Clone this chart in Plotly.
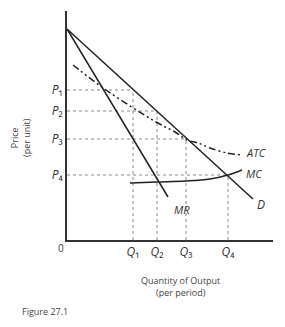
import plotly.graph_objects as go

# ---- data (in chart units) ----
q_labels = ["<i>Q</i>₁", "<i>Q</i>₂", "<i>Q</i>₃", "<i>Q</i>₄"]
q_values = [3.3, 4.5, 5.95, 8.05]
p_labels = ["<i>P</i>₁", "<i>P</i>₂", "<i>P</i>₃", "<i>P</i>₄"]
p_values = [7.5, 6.45, 5.05, 3.25]

demand_x = [0, 9.3]
demand_y = [10.55, 2.05]
mr_x = [0, 5.05]
mr_y = [10.55, 2.15]
mc_x = [3.15, 4.5, 5.95, 7.15, 8.05, 8.75]
mc_y = [2.85, 2.9, 2.95, 3.05, 3.25, 3.5]
atc_x = [0.3, 1.95, 4.45, 5.4, 6.0, 6.55, 7.15, 8.0, 8.75]
atc_y = [8.75, 7.5, 5.9, 5.4, 5.0, 4.85, 4.6, 4.35, 4.25]

X_MAX, Y_MAX = 10.3, 11.45
FONT = "Open Sans, DejaVu Sans"
fig = go.Figure()

guide = dict(color="#8a8a8a", width=1, dash="dot")
for q, p in zip(q_values, p_values):
    fig.add_trace(go.Scatter(x=[0, q], y=[p, p], mode="lines", line=guide,
                             hoverinfo="skip", showlegend=False))
    fig.add_trace(go.Scatter(x=[q, q], y=[0, p], mode="lines", line=guide,
                             hoverinfo="skip", showlegend=False))

fig.add_trace(go.Scatter(x=atc_x, y=atc_y, mode="lines", line_shape="spline",
                         line=dict(color="#222", width=1.5, dash="7px,3px,2px,3px,2px,3px"),
                         showlegend=False))
fig.add_trace(go.Scatter(x=mc_x, y=mc_y, mode="lines", line_shape="spline",
                         line=dict(color="#222", width=1.5), showlegend=False))
fig.add_trace(go.Scatter(x=demand_x, y=demand_y, mode="lines",
                         line=dict(color="#222", width=1.5), showlegend=False))
fig.add_trace(go.Scatter(x=mr_x, y=mr_y, mode="lines",
                         line=dict(color="#222", width=1.5), showlegend=False))

def lab(x, y, t, size=11, xanchor="center"):
    fig.add_annotation(x=x, y=y, text=t, showarrow=False, xanchor=xanchor, yanchor="middle",
                       font=dict(family=FONT, size=size, color="#333"))

lab(8.85, 4.4, "<i>ATC</i>", size=11, xanchor="left")
lab(8.85, 3.35, "<i>MC</i>", size=11, xanchor="left")
lab(9.7, 1.8, "<i>D</i>", size=12)
lab(5.75, 1.55, "<i>MR</i>", size=11)

def ptxt(px, py, t, size=10, xanchor="center", **kw):
    # pixel position in the 285x327 picture -> paper coordinates of the plot area
    fig.add_annotation(x=(px - 67) / 206, y=(240 - py) / 229, xref="paper", yref="paper",
                       text=t, showarrow=False, xanchor=xanchor, yanchor="middle",
                       font=dict(family=FONT, size=size, color="#444"), **kw)

ptxt(61, 248, "0", size=10)
ptxt(20, 138, "Price<br>(per unit)", size=9, textangle=-90)
ptxt(180, 286, "Quantity of Output<br>(per period)", size=9)
ptxt(20, 311, "Figure 27.1", size=9, xanchor="left")

fig.update_xaxes(range=[0, X_MAX], showgrid=False, zeroline=False,
                 tickmode="array", tickvals=q_values, ticktext=q_labels,
                 tickfont=dict(family=FONT, size=12, color="#333"),
                 ticks="", showline=True, linewidth=2, linecolor="#333")
fig.update_yaxes(range=[0, Y_MAX], showgrid=False, zeroline=False,
                 tickmode="array", tickvals=p_values, ticktext=p_labels,
                 tickfont=dict(family=FONT, size=12, color="#333"),
                 ticks="", showline=True, linewidth=2, linecolor="#333")
fig.update_layout(width=285, height=327, margin=dict(l=67, r=12, t=11, b=87),
                  paper_bgcolor="white", plot_bgcolor="white")
fig.write_html("out.html")
